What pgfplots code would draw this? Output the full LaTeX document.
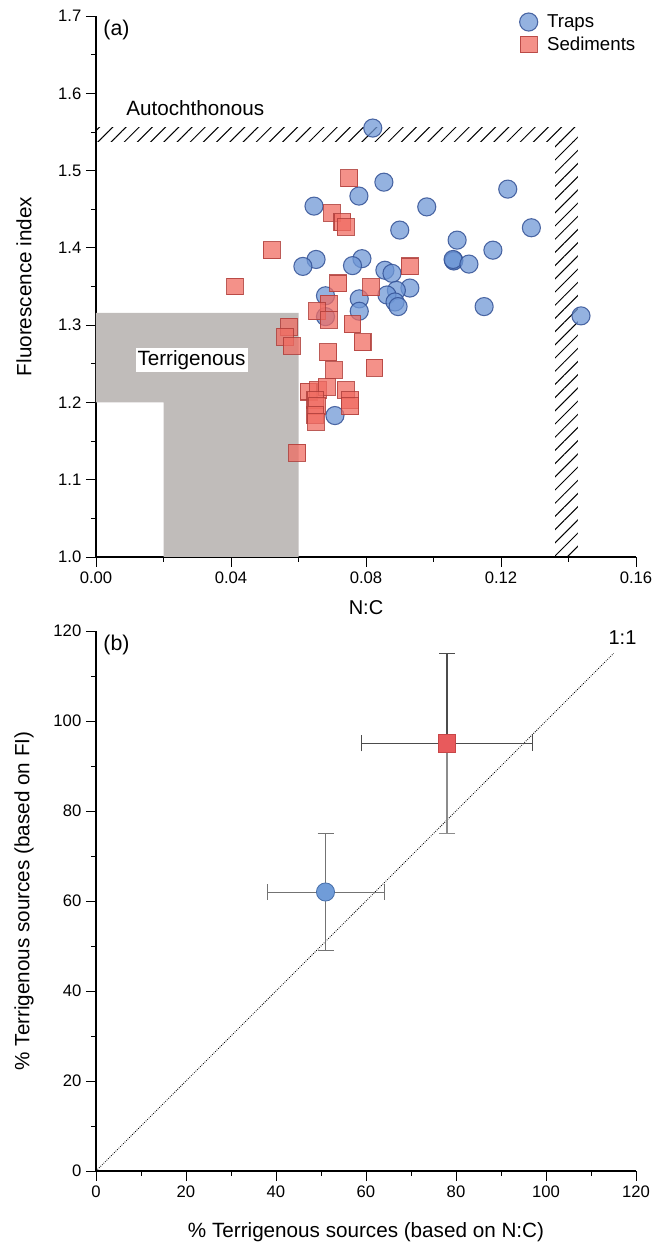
\documentclass[border=0pt]{standalone}
\usepackage{fontspec}
\setmainfont{Liberation Sans}
\usepackage{pgfplots}
\pgfplotsset{compat=1.18}
\usepackage{pgfplotstable}
\usetikzlibrary{patterns.meta}

\definecolor{trapfill}{RGB}{112,152,214}
\definecolor{trapdraw}{RGB}{52,82,150}
\definecolor{sedfill}{RGB}{240,108,98}
\definecolor{seddraw}{RGB}{176,62,58}
\definecolor{terrgray}{RGB}{192,188,186}
\definecolor{bsq}{RGB}{232,90,92}
\definecolor{bsqd}{RGB}{200,70,72}
\definecolor{bci}{RGB}{112,156,216}
\definecolor{bcid}{RGB}{70,110,170}

\pgfplotstableread{
x y
0.0820 1.555
0.0853 1.485
0.0779 1.467
0.1220 1.476
0.0980 1.453
0.0646 1.454
0.1290 1.426
0.0900 1.423
0.1070 1.410
0.1176 1.397
0.1060 1.384
0.1060 1.383
0.1058 1.385
0.1105 1.379
0.0788 1.386
0.0760 1.377
0.0652 1.385
0.0613 1.376
0.0856 1.371
0.0877 1.367
0.0930 1.348
0.0890 1.345
0.0862 1.339
0.0886 1.330
0.0895 1.324
0.0780 1.334
0.0780 1.318
0.0680 1.338
0.0680 1.311
0.1150 1.324
0.1437 1.312
0.0708 1.183
}\traps

\pgfplotstableread{
x y
0.0750 1.490
0.0699 1.445
0.0730 1.433
0.0740 1.427
0.0521 1.397
0.0930 1.376
0.0718 1.354
0.0815 1.349
0.0412 1.350
0.0690 1.328
0.0655 1.318
0.0690 1.307
0.0760 1.301
0.0572 1.298
0.0560 1.285
0.0580 1.273
0.0790 1.278
0.0688 1.265
0.0825 1.245
0.0705 1.242
0.0630 1.214
0.0658 1.216
0.0684 1.220
0.0650 1.203
0.0655 1.195
0.0740 1.216
0.0753 1.203
0.0753 1.195
0.0650 1.184
0.0652 1.175
0.0596 1.135
}\sediments

\pgfplotsset{
  myaxis/.style={
    scale only axis,
    axis x line*=bottom,
    axis y line*=left,
    axis line style={black, line width=0.8pt},
    tick align=outside,
    major tick length=7.5pt,
    minor tick length=3.75pt,
    every tick/.style={black, line width=0.6pt},
    minor x tick num=1,
    minor y tick num=1,
    tick label style={font=\fontsize{12.5}{14}\selectfont},
    /pgf/number format/assume math mode=true,
    clip=false,
  }
}

\begin{document}
\begin{tikzpicture}
\useasboundingbox (0,0) rectangle (489.75pt,932.25pt);

% ---------------- (a) ----------------
\begin{axis}[myaxis,
  at={(72pt,514.5pt)}, anchor=south west,
  width=405pt, height=405.75pt,
  xmin=0, xmax=0.16, ymin=1.0, ymax=1.7,
  xtick={0,0.04,0.08,0.12,0.16},
  xticklabels={0.00,0.04,0.08,0.12,0.16},
  ytick={1.0,1.1,1.2,1.3,1.4,1.5,1.6,1.7},
  yticklabels={1.0,1.1,1.2,1.3,1.4,1.5,1.6,1.7},
  xlabel={N:C},
  ylabel={Fluorescence index},
  every axis x label/.style={at={([yshift=-38pt]axis description cs:0.5,0)}, anchor=center, font=\fontsize{15}{17}\selectfont},
  every axis y label/.style={at={([xshift=-54pt]axis description cs:0,0.5)}, anchor=center, rotate=90, font=\fontsize{15.5}{17}\selectfont},
  legend style={at={(rel axis cs:0.784,1.008)}, anchor=north west, draw=none, fill=none,
    font=\fontsize{14}{16}\selectfont, row sep=1.5pt, inner sep=0pt,
    /tikz/every odd column/.append style={column sep=5pt}},
  legend cell align=left,
]
\fill[terrgray] (axis cs:0,1.2) -- (axis cs:0.02,1.2) -- (axis cs:0.02,1.0) -- (axis cs:0.06,1.0)
  -- (axis cs:0.06,1.316) -- (axis cs:0,1.316) -- cycle;
\fill[pattern={Lines[angle=45,distance=7pt,line width=0.75pt]}] (axis cs:0,1.537) rectangle (axis cs:0.1428,1.556);
\fill[pattern={Lines[angle=45,distance=7pt,line width=0.75pt]}] (axis cs:0.136,1.0) rectangle (axis cs:0.1428,1.537);
\node[fill=white, inner sep=1.5pt, font=\fontsize{15.5}{17}\selectfont] at (axis cs:0.0283,1.255) {Terrigenous};
\node[font=\fontsize{15.5}{17}\selectfont] at (axis cs:0.0294,1.581) {Autochthonous};
\node[font=\fontsize{16}{18}\selectfont] at (rel axis cs:0.038,0.975) {(a)};

\addplot[only marks, mark=*, mark size=6.8pt,
  mark options={fill=trapfill, draw=trapdraw, fill opacity=0.75, draw opacity=0.85, line width=0.8pt}]
  table[x=x,y=y]{\traps};
\addlegendentry{Traps}
\addplot[only marks, mark=square*, mark size=6.3pt,
  mark options={fill=sedfill, draw=seddraw, fill opacity=0.75, draw opacity=0.85, line width=0.8pt}]
  table[x=x,y=y]{\sediments};
\addlegendentry{Sediments}
\end{axis}

% ---------------- (b) ----------------
\begin{axis}[myaxis,
  at={(72pt,54pt)}, anchor=south west,
  width=405pt, height=405pt,
  xmin=0, xmax=120, ymin=0, ymax=120,
  xtick={0,20,40,60,80,100,120},
  ytick={0,20,40,60,80,100,120},
  xlabel={\% Terrigenous sources (based on N:C)},
  ylabel={\% Terrigenous sources (based on FI)},
  every axis x label/.style={at={([yshift=-46pt]axis description cs:0.5,0)}, anchor=center, font=\fontsize{15.5}{17}\selectfont},
  every axis y label/.style={at={([xshift=-54pt]axis description cs:0,0.5)}, anchor=center, rotate=90, font=\fontsize{15.5}{17}\selectfont},
]
\addplot[black, densely dotted, line width=0.6pt] coordinates {(0,0) (115,115)};
\node[font=\fontsize{15}{17}\selectfont] at (axis cs:117,118.5) {1:1};
\node[font=\fontsize{16}{18}\selectfont] at (rel axis cs:0.038,0.975) {(b)};

\addplot[only marks, mark=*, mark size=6.8pt,
  mark options={fill=bci, draw=bcid, line width=0.6pt},
  error bars/.cd, x dir=both, x explicit, y dir=both, y explicit,
  error bar style={color=gray!90!black, line width=0.7pt},
  error mark options={rotate=90, mark size=6pt, line width=0.7pt, color=gray!90!black}]
  coordinates {(51,62) +- (13,13)};
\addplot[only marks, mark=none, forget plot,
  error bars/.cd, y dir=minus, y explicit,
  error bar style={color=black!45, line width=0.8pt},
  error mark options={rotate=90, mark size=6pt, line width=0.8pt, color=black!45}]
  coordinates {(78,95) +- (0,20)};
\addplot[only marks, mark=square*, mark size=6.5pt,
  mark options={fill=bsq, draw=bsqd, line width=0.6pt},
  error bars/.cd, x dir=both, x explicit, y dir=plus, y explicit,
  error bar style={color=black!70, line width=1.3pt},
  error mark options={rotate=90, mark size=6pt, line width=1pt, color=black!70}]
  coordinates {(78,95) +- (19,20)};
\end{axis}
\end{tikzpicture}
\end{document}
